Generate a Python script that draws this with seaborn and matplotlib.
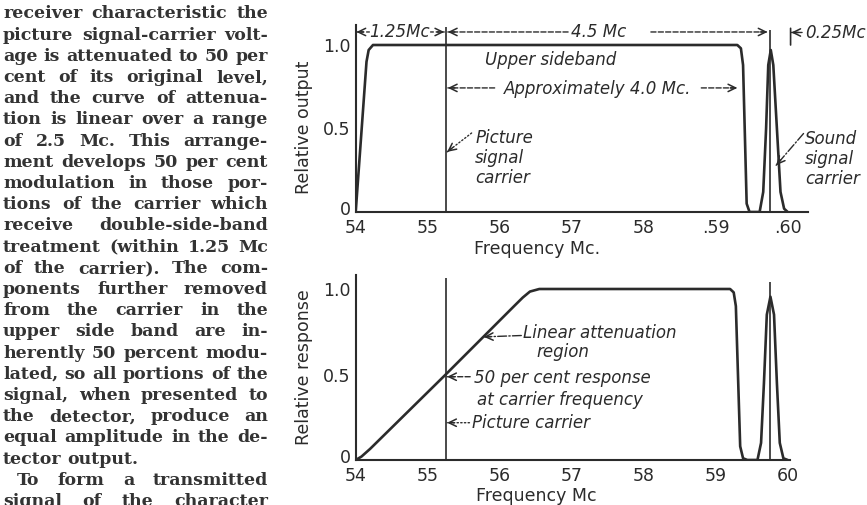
import matplotlib
matplotlib.use("Agg")
import matplotlib.pyplot as plt
import matplotlib.transforms as mtrans
import numpy as np
import pandas as pd
import seaborn as sns

# ---------------- data ----------------
top_freq = [54.00, 54.15, 54.18, 54.24, 59.30, 59.35, 59.38, 59.43, 59.47, 59.52,
            59.61, 59.66, 59.70, 59.73, 59.765, 59.80, 59.85, 59.90, 59.95, 60.00]
top_output = [0.00, 0.90, 0.97, 1.00, 1.00, 0.98, 0.88, 0.05, 0.00, 0.00,
              0.00, 0.12, 0.50, 0.88, 0.97, 0.88, 0.50, 0.12, 0.02, 0.00]

bottom_freq = [54.00, 54.08, 54.20, 55.25, 56.20, 56.32, 56.42, 56.55, 59.20, 59.25,
               59.28, 59.34, 59.38, 59.44, 59.58, 59.63, 59.67, 59.71, 59.76, 59.81,
               59.85, 59.89, 59.94, 60.00]
bottom_response = [0.00, 0.02, 0.065, 0.50, 0.90, 0.95, 0.985, 1.00, 1.00, 0.98,
                   0.90, 0.08, 0.01, 0.00, 0.00, 0.10, 0.45, 0.85, 0.955, 0.85,
                   0.45, 0.10, 0.01, 0.00]

picture_carrier = 55.25
sound_carrier = 59.75

top_xticks = [54, 55, 56, 57, 58, 59, 60]
top_xticklabels = ["54", "55", "56", "57", "58", ".59", ".60"]
bottom_xticks = [54, 55, 56, 57, 58, 59, 60]
bottom_xticklabels = ["54", "55", "56", "57", "58", "59", "60"]
yticks = [0, 0.5, 1.0]
yticklabels = ["0", "0.5", "1.0"]

body_lines = [
    "receiver characteristic the",
    "picture signal-carrier volt-",
    "age is attenuated to 50 per",
    "cent of its original level,",
    "and the curve of attenua-",
    "tion is linear over a range",
    "of 2.5 Mc.  This arrange-",
    "ment develops 50 per cent",
    "modulation in those por-",
    "tions of the carrier which",
    "receive double-side-band",
    "treatment (within 1.25 Mc",
    "of the carrier).  The com-",
    "ponents further removed",
    "from the carrier in the",
    "upper side band are in-",
    "herently 50 percent modu-",
    "lated, so all portions of the",
    "signal, when presented to",
    "the detector, produce an",
    "equal amplitude in the de-",
    "tector output.",
    "To form a transmitted",
    "signal of the character",
]

# ---------------- style ----------------
sns.set_theme(style="white")
plt.rcParams["font.family"] = ["DejaVu Sans"]
INK = "#2b2b2b"
TEXT_INK = "#333333"

W, H = 867, 505
fig = plt.figure(figsize=(W / 100, H / 100), dpi=100)
fig.patch.set_facecolor("white")


def px_axes(left, right, top, bottom):
    return fig.add_axes([left / W, 1 - bottom / H, (right - left) / W, (bottom - top) / H])


ax1 = px_axes(355.7, 808, 25, 212)
ax2 = px_axes(355.7, 790, 275, 460)

ax1.set_xlim(54, 54 + (808 - 355.7) / 72)
ax1.set_ylim(0, 187 / 167)
ax2.set_xlim(54, 54 + (790 - 355.7) / 72)
ax2.set_ylim(0, 185 / 171)

df_top = pd.DataFrame({"Frequency": top_freq, "Output": top_output})
df_bot = pd.DataFrame({"Frequency": bottom_freq, "Response": bottom_response})

sns.lineplot(data=df_top, x="Frequency", y="Output", ax=ax1, sort=False,
             estimator=None, color=INK, lw=1.9, solid_joinstyle="round")
sns.lineplot(data=df_bot, x="Frequency", y="Response", ax=ax2, sort=False,
             estimator=None, color=INK, lw=1.9, solid_joinstyle="round")

ax1.vlines(picture_carrier, 0, 1.11, color=INK, lw=1.2)
ax1.vlines(sound_carrier, 0, 1.09, color=INK, lw=1.2)
ax2.vlines(picture_carrier, 0, 1.064, color=INK, lw=1.2)
ax2.vlines(sound_carrier, 0, 1.043, color=INK, lw=1.2)

for ax, xt, xtl in ((ax1, top_xticks, top_xticklabels), (ax2, bottom_xticks, bottom_xticklabels)):
    ax.set_facecolor("none")
    for s in ("top", "right"):
        ax.spines[s].set_visible(False)
    for s in ("left", "bottom"):
        ax.spines[s].set_color(INK)
        ax.spines[s].set_linewidth(1.5)
    ax.grid(False)
    ax.set_xticks(xt)
    ax.set_xticklabels(xtl)
    ax.set_yticks(yticks)
    ax.set_yticklabels(yticklabels)
    ax.tick_params(direction="in", length=4.5, width=1.1, colors=INK, labelsize=12.5,
                   labelcolor=INK)
    ax.tick_params(axis="x", pad=5)
    ax.tick_params(axis="y", pad=3.5)
    zero = ax.get_yticklabels()[0]
    zero.set_transform(zero.get_transform()
                       + mtrans.ScaledTranslation(0, 4 / 100, fig.dpi_scale_trans))

ax1.set_xlabel("Frequency Mc.", fontsize=12.5, color=INK)
ax1.set_ylabel("Relative output", fontsize=12.5, color=INK)
ax2.set_xlabel("Frequency Mc", fontsize=12.5, color=INK)
ax2.set_ylabel("Relative response", fontsize=12.5, color=INK)
ax1.xaxis.set_label_coords(0.40, -0.150)
ax1.yaxis.set_label_coords(-0.094, 0.455)
ax2.xaxis.set_label_coords(0.417, -0.146)
ax2.yaxis.set_label_coords(-0.098, 0.504)

ITF = dict(fontsize=12, fontstyle="italic", color=INK)


def arrow(ax, start, tip, ls="--"):
    ax.annotate("", xy=tip, xytext=start,
                arrowprops=dict(arrowstyle="-", linestyle=ls, lw=1.0, color=INK,
                                shrinkA=0, shrinkB=0))
    p0 = ax.transData.transform(start)
    p1 = ax.transData.transform(tip)
    d = (p1 - p0) / np.hypot(*(p1 - p0))
    off = -d * 7 * 72 / 100
    ax.annotate("", xy=tip, xytext=(off[0], off[1]), textcoords="offset points",
                arrowprops=dict(arrowstyle="->,head_length=0.45,head_width=0.22",
                                lw=1.1, color=INK, shrinkA=0, shrinkB=0))


def bar(ax, x, y0, y1):
    ax.annotate("", xy=(x, y0), xytext=(x, y1),
                arrowprops=dict(arrowstyle="-", lw=1.2, color=INK, shrinkA=0, shrinkB=0))


# ---- top chart annotations ----
ax1.text(54.615, 1.045, "1.25Mc", ha="center", va="baseline", **ITF)
arrow(ax1, (54.19, 1.078), (54.01, 1.078), ls=(0, (2, 2)))
arrow(ax1, (55.04, 1.078), (55.23, 1.078), ls=(0, (2, 2)))
ax1.text(57.38, 1.045, "4.5 Mc", ha="center", va="baseline", **ITF)
arrow(ax1, (56.95, 1.078), (55.28, 1.078))
arrow(ax1, (58.10, 1.078), (59.72, 1.078))
bar(ax1, 60.04, 1.0, 1.10)
arrow(ax1, (60.20, 1.075), (60.05, 1.075), ls="-")
ax1.text(60.24, 1.042, "0.25Mc", ha="left", va="baseline", **ITF)

ax1.text(56.71, 0.88, "Upper sideband", ha="center", va="baseline", **ITF)
ax1.text(57.36, 0.707, "Approximately 4.0 Mc.", ha="center", va="baseline", **ITF)
arrow(ax1, (55.93, 0.743), (55.28, 0.743))
arrow(ax1, (58.80, 0.743), (59.30, 0.743))

for k, word in enumerate(["Picture", "signal", "carrier"]):
    ax1.text(55.66, 0.413 - 0.12 * k, word, ha="left", va="baseline", **ITF)
arrow(ax1, (55.61, 0.473), (55.27, 0.36), ls=":")

for k, word in enumerate(["Sound", "signal", "carrier"]):
    ax1.text(60.24, 0.41 - 0.12 * k, word, ha="left", va="baseline", **ITF)
arrow(ax1, (60.22, 0.47), (59.84, 0.28), ls="-.")

# ---- bottom chart annotations ----
ax2.text(56.33, 0.712, "Linear attenuation", ha="left", va="baseline", **ITF)
ax2.text(56.51, 0.60, "region", ha="left", va="baseline", **ITF)
arrow(ax2, (56.30, 0.728), (55.78, 0.72), ls="-.")
ax2.text(55.65, 0.448, "50 per cent response", ha="left", va="baseline", **ITF)
ax2.text(55.68, 0.322, "at carrier frequency", ha="left", va="baseline", **ITF)
arrow(ax2, (55.59, 0.487), (55.27, 0.487))
ax2.text(55.61, 0.185, "Picture carrier", ha="left", va="baseline", **ITF)
arrow(ax2, (55.58, 0.218), (55.27, 0.218), ls=":")

# ---------------- justified body text ----------------
fig.canvas.draw()
renderer = fig.canvas.get_renderer()
X0, X1 = 3.0, 268.0
FS = 12.5
MIN_GAP = 6
for i, line in enumerate(body_lines):
    yb = 1 - (18.5 + 21.2 * i) / H
    words = line.split()
    left = X0 + (14 if i == 22 else 0)
    justify = i != 21
    ts = [fig.text(0, yb, w, fontsize=FS, family="DejaVu Serif", weight="bold",
                   color=TEXT_INK, va="baseline", ha="left") for w in words]
    ws = [t.get_window_extent(renderer).width for t in ts]
    n = len(words)
    if justify and n > 1:
        gap = (X1 - left - sum(ws)) / (n - 1)
        if gap < MIN_GAP:
            scale = (X1 - left - MIN_GAP * (n - 1)) / sum(ws)
            for t in ts:
                t.set_fontsize(FS * scale)
            ws = [w * scale for w in ws]
            gap = (X1 - left - sum(ws)) / (n - 1)
    else:
        gap = 0.32 * FS * 100 / 72
    x = left
    for t, w in zip(ts, ws):
        t.set_x(x / W)
        x += w + gap

fig.savefig("out.png", dpi=100, facecolor="white")
